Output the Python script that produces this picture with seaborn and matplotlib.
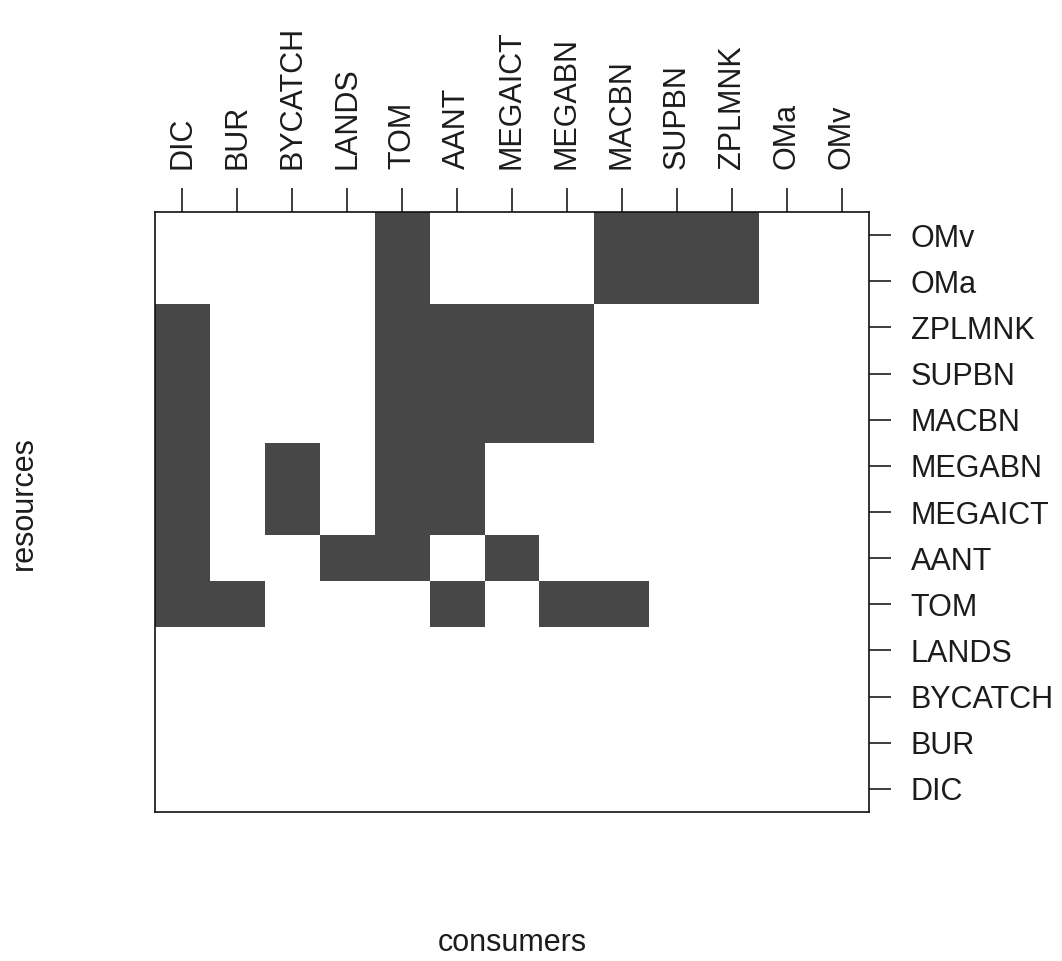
import numpy as np
import pandas as pd
import matplotlib
matplotlib.use("Agg")
import matplotlib.pyplot as plt
import seaborn as sns
from matplotlib.colors import ListedColormap

consumers = ["DIC", "BUR", "BYCATCH", "LANDS", "TOM", "AANT", "MEGAICT",
             "MEGABN", "MACBN", "SUPBN", "ZPLMNK", "OMa", "OMv"]
# resources listed top to bottom as displayed
resources = ["OMv", "OMa", "ZPLMNK", "SUPBN", "MACBN", "MEGABN", "MEGAICT",
             "AANT", "TOM", "LANDS", "BYCATCH", "BUR", "DIC"]

links = {
    "OMv": ["TOM", "MACBN", "SUPBN", "ZPLMNK"],
    "OMa": ["TOM", "MACBN", "SUPBN", "ZPLMNK"],
    "ZPLMNK": ["DIC", "TOM", "AANT", "MEGAICT", "MEGABN"],
    "SUPBN": ["DIC", "TOM", "AANT", "MEGAICT", "MEGABN"],
    "MACBN": ["DIC", "TOM", "AANT", "MEGAICT", "MEGABN"],
    "MEGABN": ["DIC", "BYCATCH", "TOM", "AANT"],
    "MEGAICT": ["DIC", "BYCATCH", "TOM", "AANT"],
    "AANT": ["DIC", "LANDS", "TOM", "MEGAICT"],
    "TOM": ["DIC", "BUR", "AANT", "MEGABN", "MACBN"],
}

mat = pd.DataFrame(0, index=resources, columns=consumers)
for r, cs in links.items():
    for c in cs:
        mat.loc[r, c] = 1

sns.set_theme(style="white")
plt.rcParams['font.family'] = ['Liberation Sans', 'DejaVu Sans']

fig = plt.figure(figsize=(10.62, 9.61), dpi=100)
ax = fig.add_axes([155/1062, 1-812/961, (869-155)/1062, (812-212)/961])

sns.heatmap(mat, ax=ax, cmap=ListedColormap(["white", "#474747"]),
            cbar=False, vmin=0, vmax=1, linewidths=0)

FS = 22
TXT = "#1c1c1c"
ax.xaxis.tick_top()
ax.yaxis.tick_right()
ax.set_xticks(np.arange(len(consumers)) + 0.5)
ax.set_xticklabels(consumers, rotation=90, fontsize=FS, color=TXT)
ax.set_yticks(np.arange(len(resources)) + 0.5)
ax.set_yticklabels(resources, rotation=0, fontsize=FS, color=TXT)
ax.tick_params(axis="x", top=True, bottom=False, length=17, width=1.2,
               color=TXT, pad=14, direction="out")
ax.tick_params(axis="y", right=True, left=False, length=16, width=1.2,
               color=TXT, pad=14, direction="out")

for s in ax.spines.values():
    s.set_visible(True)
    s.set_color("#111111")
    s.set_linewidth(1.2)

ax.set_xlabel("")
ax.set_ylabel("")
fig.text(512/1062, 1-951/961, "consumers", ha="center", va="baseline",
         fontsize=FS, color=TXT)
fig.text(24/1062, 1-503/961, "resources", ha="center", va="center",
         rotation=90, fontsize=FS, color=TXT)

fig.savefig("out.png", dpi=100, facecolor="white")
